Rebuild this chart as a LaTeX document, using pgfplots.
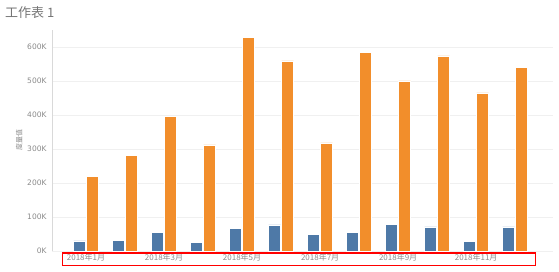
\documentclass[border=0pt]{standalone}
\usepackage{fontspec}
\usepackage{pgfplots}
\pgfplotsset{compat=1.18}
\usepackage{pgfplotstable}
\setmainfont{DejaVu Sans}
\newfontfamily\cjk{Noto Sans CJK SC}
\definecolor{tblue}{HTML}{4E79A7}
\definecolor{torange}{HTML}{F28E2B}
\definecolor{txt}{HTML}{8A8A8A}
\definecolor{grid}{HTML}{F0F0F0}
\pgfplotstableread{
m blue orange
1 30000 220000
2 32000 282000
3 54000 397000
4 26000 312000
5 67000 629000
6 77000 559000
7 49000 318000
8 54000 585000
9 78000 500000
10 71000 574000
11 29000 465000
12 71000 541000
}\data
\begin{document}
\begin{tikzpicture}[x=1pt,y=1pt]
\path[use as bounding box] (0,0) rectangle (559,272);
\node[anchor=north west,inner sep=0pt,text=txt!85!black,font=\cjk\fontsize{13}{15}\selectfont] at (5,266) {工作表 1};
\begin{axis}[
  at={(52pt,21pt)}, anchor=south west,
  scale only axis, width=501pt, height=221pt,
  xmin=0.128, xmax=12.97, ymin=0, ymax=650000,
  axis lines*=left,
  x axis line style={draw=none},
  y axis line style={draw=grid!80!gray},
  major tick length=0pt,
  xtick={1,3,5,7,9,11},
  xticklabels={2018年1月,2018年3月,2018年5月,2018年7月,2018年9月,2018年11月},
  x tick label style={font=\cjk\fontsize{8}{9}\selectfont, text=txt, yshift=1pt},
  ytick={0,100000,200000,300000,400000,500000,600000},
  yticklabels={0K,100K,200K,300K,400K,500K,600K},
  scaled y ticks=false,
  y tick label style={font=\fontsize{7.5}{9}\selectfont, text=txt, xshift=-2pt},
  ymajorgrids, grid style={draw=grid, line width=0.6pt},
  ylabel={\cjk 度量值}, ylabel style={font=\fontsize{7}{8}\selectfont, text=txt, yshift=-2pt},
  ybar, bar width=12pt,
  clip=false,
]
\addplot[fill=tblue, draw=white, line width=0.4pt, bar shift=-6.5pt] table[x=m,y=blue]{\data};
\addplot[fill=torange, draw=white, line width=0.4pt, bar shift=6.5pt] table[x=m,y=orange]{\data};
\end{axis}
\draw[red, line width=1.4pt] (62.5,6.5) rectangle (535.5,19);
\end{tikzpicture}
\end{document}
